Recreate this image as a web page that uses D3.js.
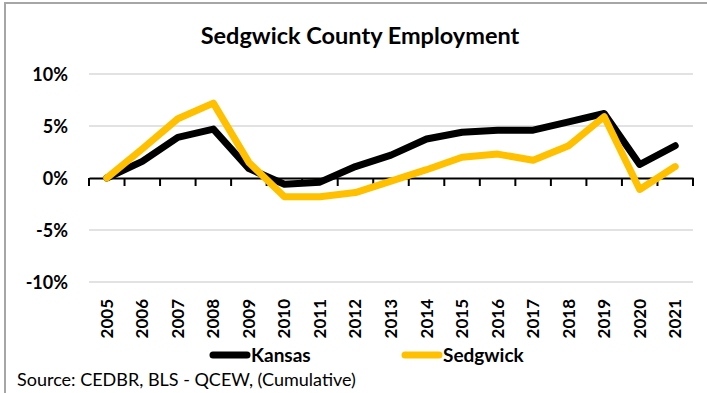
<!DOCTYPE html>
<html>
<head>
<meta charset="utf-8">
<script src="https://cdn.jsdelivr.net/npm/d3@7"></script>
<style>
  html, body { margin: 0; padding: 0; background: #fff; }
  svg { display: block; font-family: Lato, "Open Sans", sans-serif; }
</style>
</head>
<body>
<svg id="chart" width="707" height="393"></svg>
<script>
const years = ["2005","2006","2007","2008","2009","2010","2011","2012","2013","2014","2015","2016","2017","2018","2019","2020","2021"];
const kansas = [0, 1.6, 3.9, 4.7, 0.9, -0.6, -0.4, 1.1, 2.2, 3.75, 4.4, 4.6, 4.6, 5.4, 6.2, 1.3, 3.1];
const sedgwick = [0, 2.8, 5.7, 7.2, 1.5, -1.8, -1.8, -1.4, -0.3, 0.8, 2.0, 2.3, 1.7, 3.1, 5.9, -1.1, 1.1];
const yTicks = [-10, -5, 0, 5, 10];
const seriesNames = ["Kansas", "Sedgwick"];
const seriesColors = ["#000000", "#FFC000"];
const title = "Sedgwick County Employment";
const source = "Source: CEDBR, BLS - QCEW, (Cumulative)";

const svg = d3.select("#chart");

// outer frame
svg.append("rect").attr("x", 5).attr("y", 3).attr("width", 720).attr("height", 420)
  .attr("fill", "none").attr("stroke", "#a6a6a6").attr("stroke-width", 2);

const x = d3.scaleBand().domain(years).range([89, 693]).padding(0);
const y = d3.scaleLinear().domain([-10, 10]).range([282, 74]);

// title
svg.append("text").attr("x", 360).attr("y", 44).attr("text-anchor", "middle")
  .attr("font-size", 23.5).attr("font-weight", 700).text(title);

// gridlines
svg.append("g").selectAll("line").data(yTicks.filter(d => d !== 0)).join("line")
  .attr("x1", 89).attr("x2", 693).attr("y1", d => y(d)).attr("y2", d => y(d))
  .attr("stroke", "#d9d9d9").attr("stroke-width", 1.5);

// y axis labels
const yAxis = d3.axisLeft(y).tickValues(yTicks).tickSize(0).tickPadding(0).tickFormat(d => d + "%");
const gy = svg.append("g").attr("transform", "translate(68,0)").call(yAxis);
gy.select(".domain").remove();
gy.selectAll("text").attr("font-size", 18).attr("font-weight", 700).attr("fill", "#000")
  .attr("font-family", "Lato, sans-serif").attr("dy", "0.36em");

// zero axis with ticks between categories
const xAxis = d3.axisBottom(x).tickSize(0).tickFormat("");
const gx = svg.append("g").attr("transform", `translate(0,${y(0)})`).call(xAxis);
gx.select(".domain").attr("stroke", "#000").attr("stroke-width", 2);
gx.selectAll(".tick").remove();
const boundaries = years.map(d => x(d)).concat([x(years[years.length - 1]) + x.bandwidth()]);
gx.selectAll("line.bnd").data(boundaries).join("line").attr("class", "bnd")
  .attr("x1", d => d).attr("x2", d => d).attr("y1", 0).attr("y2", 8)
  .attr("stroke", "#000").attr("stroke-width", 2);

// x labels at the bottom
svg.append("g").selectAll("text").data(years).join("text")
  .attr("transform", d => `translate(${x(d) + x.bandwidth() / 2 + 6},299) rotate(-90)`)
  .attr("text-anchor", "end").attr("font-size", 17).attr("font-weight", 700).text(d => d);

// lines
const line = d3.line().x((d, i) => x(years[i]) + x.bandwidth() / 2).y(d => y(d));
[kansas, sedgwick].forEach((s, k) => {
  svg.append("path").datum(s).attr("d", line).attr("fill", "none")
    .attr("stroke", seriesColors[k]).attr("stroke-width", 7)
    .attr("stroke-linejoin", "round").attr("stroke-linecap", "round");
});

// legend
const legX = [210, 402];
seriesNames.forEach((n, k) => {
  svg.append("line").attr("x1", legX[k] + 3).attr("x2", legX[k] + 37).attr("y1", 355).attr("y2", 355)
    .attr("stroke", seriesColors[k]).attr("stroke-width", 7).attr("stroke-linecap", "round");
  svg.append("text").attr("x", legX[k] + 41).attr("y", 362).attr("font-size", 19)
    .attr("font-weight", 700).text(n);
});

// source
svg.append("text").attr("x", 17).attr("y", 386).attr("font-size", 18).text(source);
</script>
</body>
</html>
